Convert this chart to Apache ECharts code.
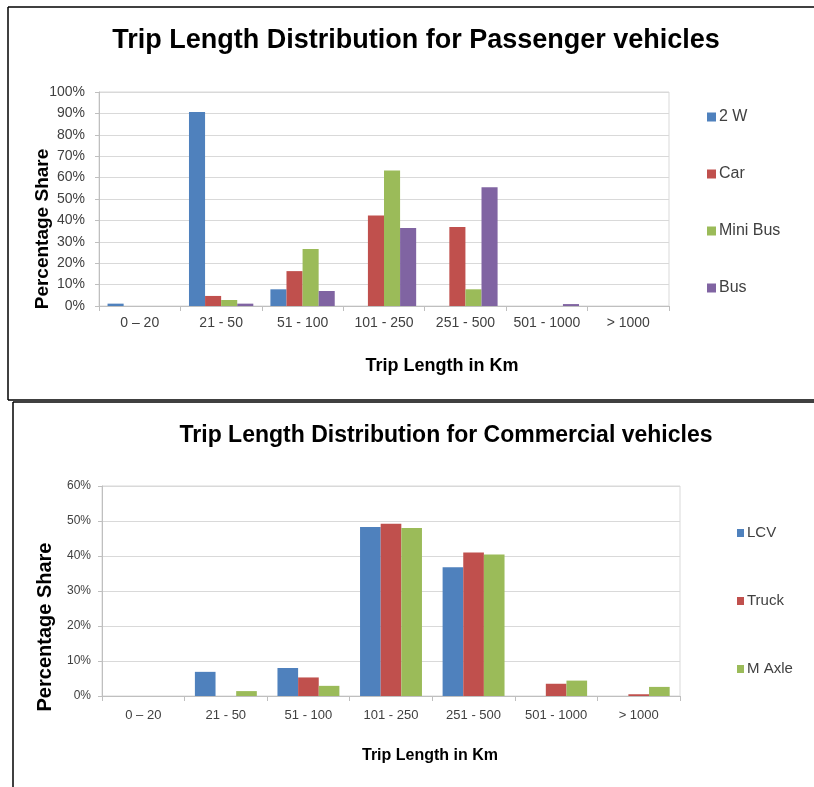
<!DOCTYPE html>
<html>
<head>
<meta charset="utf-8">
<script src="https://cdn.jsdelivr.net/npm/echarts@6/dist/echarts.min.js"></script>
<style>
  html, body { margin: 0; padding: 0; background: #fff; }
  #chart { width: 814px; height: 787px; }
</style>
</head>
<body>
<div id="chart"></div>
<script>
// Trip length bands (km)
const categories = ['0 – 20', '21 - 50', '51 - 100', '101 - 250', '251 - 500', '501 - 1000', '> 1000'];

// Passenger vehicles, % share per band
const twoWheeler = [1.1, 90.6, 7.8, 0, 0, 0, 0];
const car        = [0, 4.7, 16.3, 42.3, 36.9, 0, 0];
const miniBus    = [0, 2.8, 26.6, 63.3, 7.8, 0, 0];
const bus        = [0, 1.1, 7.0, 36.4, 55.5, 0.9, 0];

// Commercial vehicles, % share per band
const lcv   = [0, 6.9, 8.0, 48.3, 36.8, 0, 0];
const truck = [0, 0, 5.3, 49.2, 41.0, 3.5, 0.5];
const mAxle = [0, 1.4, 2.9, 48.0, 40.4, 4.4, 2.6];

const FONT = 'Liberation Sans, Arial, sans-serif';
const BLUE = '#4F81BD', RED = '#C0504D', GREEN = '#9BBB59', PURPLE = '#8064A2';
const GRID_LINE = '#D9D9D9', AXIS_LINE = '#BFBFBF', LABEL = '#404040';

function xAxisFor(gridIndex, fontSize, margin) {
  return {
    type: 'category', gridIndex, data: categories,
    axisLine: { lineStyle: { color: AXIS_LINE, width: 1 } },
    axisTick: { show: true, length: 5, alignWithLabel: false, lineStyle: { color: AXIS_LINE } },
    axisLabel: { color: LABEL, fontFamily: FONT, fontSize, margin, interval: 0 },
    splitLine: { show: false }
  };
}
function yAxisFor(gridIndex, max, fontSize, margin) {
  return {
    type: 'value', gridIndex, min: 0, max, interval: 10,
    axisLine: { show: true, lineStyle: { color: AXIS_LINE } },
    axisTick: { show: true, length: 4, lineStyle: { color: AXIS_LINE } },
    axisLabel: { color: LABEL, fontFamily: FONT, fontSize, margin, formatter: '{value}%' },
    splitLine: { lineStyle: { color: GRID_LINE, width: 1 } }
  };
}
function barSeries(name, data, color, idx, gap) {
  return {
    name, type: 'bar', data, xAxisIndex: idx, yAxisIndex: idx,
    barGap: '0%', barCategoryGap: gap,
    itemStyle: { color },
    emphasis: { disabled: true }
  };
}
function txt(x, y, text, size, bold, rotation) {
  return {
    type: 'text', x, y, rotation: rotation || 0,
    style: {
      text, fill: '#000', font: (bold ? 'bold ' : '') + size + 'px ' + FONT,
      textAlign: 'center', textVerticalAlign: 'middle'
    }
  };
}
function line(x1, y1, x2, y2) {
  return { type: 'line', shape: { x1, y1, x2, y2 }, style: { stroke: '#000', lineWidth: 1.5 } };
}

const chart = echarts.init(document.getElementById('chart'), null, { renderer: 'canvas' });
chart.setOption({
  animation: false,
  backgroundColor: '#fff',
  grid: [
    { left: 99, right: 145, top: 92, bottom: 481, show: true, borderColor: GRID_LINE, borderWidth: 1 },
    { left: 102, right: 134, top: 486, bottom: 91, show: true, borderColor: GRID_LINE, borderWidth: 1 }
  ],
  xAxis: [xAxisFor(0, 14, 10), xAxisFor(1, 13, 13)],
  yAxis: [yAxisFor(0, 100, 14, 14), yAxisFor(1, 60, 12, 11)],
  legend: [
    {
      data: ['2 W', 'Car', 'Mini Bus', 'Bus'], orient: 'vertical',
      left: 707, top: 108, padding: 0, itemWidth: 9, itemHeight: 9, itemGap: 39, icon: 'rect',
      textStyle: { fontFamily: FONT, fontSize: 16, color: LABEL, lineHeight: 18, padding: [0, 0, 0, -2] },
      selectedMode: false
    },
    {
      data: ['LCV', 'Truck', 'M Axle'], orient: 'vertical',
      left: 737, top: 525, padding: 0, itemWidth: 7, itemHeight: 8, itemGap: 52, icon: 'rect',
      textStyle: { fontFamily: FONT, fontSize: 15, color: LABEL, lineHeight: 16, padding: [0, 0, 0, -2] },
      selectedMode: false
    }
  ],
  series: [
    barSeries('2 W', twoWheeler, BLUE, 0, '21%'),
    barSeries('Car', car, RED, 0, '21%'),
    barSeries('Mini Bus', miniBus, GREEN, 0, '21%'),
    barSeries('Bus', bus, PURPLE, 0, '21%'),
    barSeries('LCV', lcv, BLUE, 1, '25%'),
    barSeries('Truck', truck, RED, 1, '25%'),
    barSeries('M Axle', mAxle, GREEN, 1, '25%')
  ],
  graphic: [
    // panel frames
    line(8, 7, 814, 7), line(8, 7, 8, 400), line(8, 400, 814, 400),
    line(13, 402, 814, 402), line(13, 402, 13, 787),
    // titles and axis names
    txt(416, 41, 'Trip Length Distribution for Passenger vehicles', 27, true),
    txt(442, 366, 'Trip Length in Km', 18, true),
    txt(43, 229, 'Percentage Share', 19, true, Math.PI / 2),
    txt(446, 436, 'Trip Length Distribution for Commercial vehicles', 23, true),
    txt(430, 756, 'Trip Length in Km', 16, true),
    txt(45, 627, 'Percentage Share', 20, true, Math.PI / 2)
  ]
});
</script>
</body>
</html>
